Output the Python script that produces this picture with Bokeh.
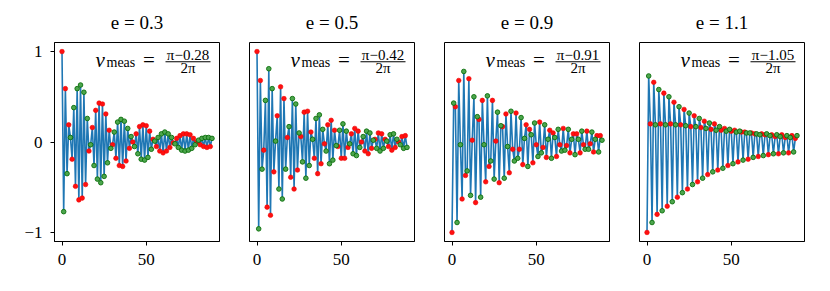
from bokeh.plotting import figure
from bokeh.layouts import row
from bokeh.models import Range1d, Label, BoxAnnotation, ColumnDataSource, FixedTicker
from bokeh.embed import file_html
from bokeh.resources import INLINE

# ---------------- data ----------------
panel_titles = ["e = 0.3", "e = 0.5", "e = 0.9", "e = 1.1"]
nu_numerators = ["π−0.28", "π−0.42", "π−0.91", "π−1.05"]
nu_denominator = "2π"
x_ticks = [0, 50]
y_ticks = [-1, 0, 1]
y_tick_text = {-1: "−1", 0: "0", 1: "1"}

signal_e03 = [
    1.00, -0.77, 0.59, -0.35, 0.19, 0.05, -0.19, 0.38, -0.49, 0.59,
    -0.64, 0.63, -0.62, 0.55, -0.47, 0.26, -0.10, -0.03, 0.16, -0.26,
    0.35, -0.41, 0.43, -0.45, 0.42, -0.38, 0.31, -0.23, 0.13, -0.07,
    -0.03, 0.11, -0.18, 0.22, -0.26, 0.25, -0.27, 0.23, -0.21, 0.15,
    -0.07, 0.06, 0.00, -0.05, 0.09, -0.13, 0.17, -0.19, 0.19, -0.20,
    0.18, -0.17, 0.12, -0.08, 0.03, 0.01, -0.05, 0.05, -0.10, 0.09,
    -0.12, 0.11, -0.10, 0.09, -0.06, 0.05, -0.01, -0.02, 0.04, -0.06,
    0.07, -0.09, 0.09, -0.10, 0.09, -0.09, 0.08, -0.07, 0.04, -0.03,
    0.00, 0.02, -0.03, 0.04, -0.05, 0.05, -0.06, 0.05, -0.05, 0.04,
]
signal_e05 = [
    1.00, -0.96, 0.68, -0.30, -0.09, 0.46, -0.72, 0.81, -0.81, 0.59,
    -0.33, 0.01, 0.29, -0.52, 0.61, -0.63, 0.48, -0.30, 0.05, 0.17,
    -0.39, 0.48, -0.52, 0.42, -0.31, 0.10, 0.06, -0.22, 0.33, -0.40,
    0.34, -0.26, 0.11, 0.03, -0.18, 0.26, -0.35, 0.30, -0.24, 0.14,
    -0.02, -0.10, 0.19, -0.24, 0.24, -0.20, 0.13, -0.04, -0.05, 0.13,
    -0.18, 0.20, -0.18, 0.12, -0.06, -0.02, 0.09, -0.13, 0.15, -0.15,
    0.12, -0.06, 0.00, 0.06, -0.10, 0.12, -0.13, 0.10, -0.07, 0.02,
    0.03, -0.07, 0.10, -0.10, 0.09, -0.07, 0.03, 0.01, -0.05, 0.08,
    -0.09, 0.09, -0.06, 0.03, 0.00, -0.03, 0.06, -0.07, 0.07, -0.06,
]
signal_e09 = [
    -1.00, 0.43, 0.39, -0.89, 0.68, -0.03, -0.63, 0.78, -0.37, -0.32,
    0.70, -0.59, 0.02, 0.50, -0.67, 0.28, 0.25, -0.61, 0.46, -0.03,
    -0.44, 0.51, -0.27, -0.21, 0.46, -0.41, 0.01, 0.33, -0.45, 0.18,
    0.17, -0.40, 0.31, -0.05, -0.34, 0.34, -0.08, -0.21, 0.32, -0.18,
    -0.08, 0.27, -0.25, 0.04, 0.19, -0.27, 0.14, 0.08, -0.23, 0.21,
    -0.03, -0.16, 0.22, -0.12, -0.06, 0.19, -0.17, 0.03, 0.13, -0.18,
    0.10, 0.05, -0.16, 0.14, -0.03, -0.10, 0.15, -0.09, -0.04, 0.14,
    -0.12, 0.03, 0.09, -0.14, 0.09, 0.03, -0.12, 0.12, -0.03, -0.08,
    0.12, -0.08, -0.02, 0.11, -0.11, 0.03, 0.07, -0.11, 0.07, 0.02,
]
signal_e11 = [
    -1.00, 0.73, 0.20, -0.89, 0.66, 0.19, -0.80, 0.58, 0.20, -0.76,
    0.54, 0.19, -0.71, 0.50, 0.20, -0.66, 0.44, 0.19, -0.61, 0.39,
    0.19, -0.56, 0.36, 0.18, -0.52, 0.32, 0.17, -0.47, 0.29, 0.17,
    -0.44, 0.26, 0.16, -0.40, 0.23, 0.15, -0.36, 0.21, 0.14, -0.33,
    0.20, 0.13, -0.31, 0.17, 0.13, -0.29, 0.15, 0.12, -0.26, 0.14,
    0.12, -0.24, 0.13, 0.11, -0.22, 0.12, 0.11, -0.20, 0.11, 0.10,
    -0.19, 0.10, 0.10, -0.17, 0.09, 0.09, -0.16, 0.08, 0.09, -0.15,
    0.08, 0.09, -0.14, 0.07, 0.08, -0.13, 0.06, 0.08, -0.13, 0.06,
    0.08, -0.12, 0.05, 0.07, -0.12, 0.05, 0.07, -0.11, 0.04, 0.07,
]
signals = [signal_e03, signal_e05, signal_e09, signal_e11]

# ---------------- styling ----------------
SERIF = "Liberation Serif"
LINE_BLUE = "#1f77b4"
y_range = Range1d(-1.1, 1.1)


def make_panel(idx, vals, title, numer):
    first = idx == 0
    n = list(range(len(vals)))
    x_lo, x_hi = n[0], n[-1]
    pad = 0.05 * (x_hi - x_lo)
    p = figure(
        width=234 if first else 195, height=283,
        x_range=Range1d(x_lo - pad, x_hi + pad), y_range=y_range,
        output_backend="svg", toolbar_location=None,
        min_border_left=54 if first else 15, min_border_right=15,
        min_border_top=41, min_border_bottom=42,
        background_fill_color="white", border_fill_color="white",
    )
    p.grid.visible = False
    p.outline_line_color = "black"
    p.outline_line_width = 1
    p.outline_line_alpha = 1

    p.title.text = title
    p.title.align = "center"
    p.title.text_font = SERIF
    p.title.text_font_size = "19px"
    p.title.text_font_style = "normal"
    p.title.text_color = "black"
    p.title.standoff = 19

    p.xaxis.ticker = FixedTicker(ticks=x_ticks)
    p.xaxis.major_label_text_font = SERIF
    p.xaxis.major_label_text_font_size = "17px"
    p.xaxis.major_label_text_color = "black"
    p.xaxis.major_tick_out = 4
    p.xaxis.major_tick_in = 0
    p.xaxis.minor_tick_out = 0
    p.xaxis.minor_tick_in = 0
    p.xaxis.major_label_standoff = 8
    p.xaxis.axis_line_color = "black"
    p.xaxis.major_tick_line_color = "black"

    if first:
        p.yaxis.ticker = FixedTicker(ticks=y_ticks)
        p.yaxis.major_label_overrides = y_tick_text
        p.yaxis.major_label_text_font = SERIF
        p.yaxis.major_label_text_font_size = "17px"
        p.yaxis.major_label_text_color = "black"
        p.yaxis.major_tick_out = 4
        p.yaxis.major_tick_in = 0
        p.yaxis.minor_tick_out = 0
        p.yaxis.minor_tick_in = 0
        p.yaxis.major_label_standoff = 8
        p.yaxis.axis_line_color = "black"
    else:
        p.yaxis.visible = False

    src = ColumnDataSource(dict(n=n, v=vals))
    p.line("n", "v", source=src, line_color=LINE_BLUE, line_width=1.6)

    even = ColumnDataSource(dict(n=n[0::2], v=vals[0::2]))
    odd = ColumnDataSource(dict(n=n[1::2], v=vals[1::2]))
    p.scatter("n", "v", source=even, size=4.6, fill_color="#ff1010",
              line_color="#ee0000", line_width=0.6)
    p.scatter("n", "v", source=odd, size=4.6, fill_color="#4da64d",
              line_color="#0a6e0a", line_width=0.9)

    # nu_meas = numerator / denominator, composed from real text
    common = dict(x_units="screen", y_units="screen", text_color="black",
                  text_font=SERIF, text_baseline="middle")
    p.add_layout(Label(x=41, y=182, text="ν", text_font_size="21px",
                       text_font_style="italic", text_align="left", **common))
    p.add_layout(Label(x=52, y=179, text="meas", text_font_size="14px",
                       text_align="left", **common))
    p.add_layout(Label(x=94.5, y=181.5, text="=", text_font_size="21px",
                       text_align="center", **common))
    p.add_layout(Label(x=133.5, y=187, text=numer, text_font_size="15px",
                       text_align="center", **common))
    p.add_layout(Label(x=133.5, y=173.5, text=nu_denominator, text_font_size="15px",
                       text_align="center", **common))
    p.add_layout(BoxAnnotation(left=111, right=156, bottom=179.2, top=180.2,
                               left_units="screen", right_units="screen",
                               bottom_units="screen", top_units="screen",
                               fill_color="black", fill_alpha=1.0,
                               line_color=None))
    return p


panels = [make_panel(i, signals[i], panel_titles[i], nu_numerators[i]) for i in range(4)]
layout = row(*panels)

open("out.html", "w").write(file_html(layout, INLINE))
